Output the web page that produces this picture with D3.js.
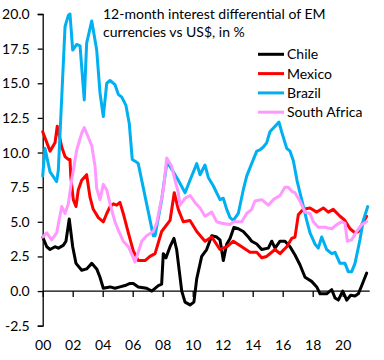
<!DOCTYPE html>
<html><head><meta charset="utf-8">
<script src="https://cdn.jsdelivr.net/npm/d3@7"></script>
<style>
html,body{margin:0;padding:0;background:#fff;}
svg{display:block;}
text{font-family:Lato,"Open Sans",sans-serif;fill:#000;}
</style></head>
<body><svg id="c" width="384" height="360"></svg>
<script>
const seriesNames = ["Chile","Mexico","Brazil","South Africa"];
const seriesColors = ["#000000","#FF0000","#00B0F0","#FF99FF"];
const yTicks = [-2.5,0,2.5,5,7.5,10,12.5,15,17.5,20];
const xTicks = [2000,2002,2004,2006,2008,2010,2012,2014,2016,2018,2020];
const xTickLabels = ["00","02","04","06","08","10","12","14","16","18","20"];
const titleLines = ["12-month interest differential of EM","currencies vs US$, in %"];

const chile = [[2000.00,3.9],[2000.27,3.2],[2000.49,3.0],[2000.82,3.2],[2001.04,3.1],[2001.37,3.3],[2001.55,3.6],[2001.77,5.2],[2002.00,3.2],[2002.22,2.0],[2002.60,1.5],[2002.93,1.6],[2003.27,2.0],[2003.60,1.6],[2003.82,1.0],[2004.04,0.2],[2004.49,0.3],[2004.82,0.2],[2005.15,0.3],[2005.49,0.4],[2005.82,0.55],[2006.04,0.55],[2006.37,0.3],[2006.93,0.2],[2007.27,0.0],[2007.49,0.2],[2007.71,0.4],[2007.93,0.5],[2008.04,2.7],[2008.22,2.4],[2008.49,3.2],[2008.75,3.8],[2008.93,3.0],[2009.27,0.0],[2009.49,-0.8],[2009.82,-1.0],[2010.08,-0.8],[2010.27,0.9],[2010.60,2.5],[2010.93,3.0],[2011.27,4.0],[2011.60,3.9],[2011.82,3.7],[2012.04,2.2],[2012.27,3.4],[2012.49,3.8],[2012.75,4.6],[2013.04,4.5],[2013.37,4.3],[2013.71,3.9],[2013.93,3.6],[2014.27,3.4],[2014.60,3.0],[2015.04,3.1],[2015.27,3.6],[2015.49,3.1],[2015.82,3.6],[2016.15,3.6],[2016.49,3.2],[2016.82,2.6],[2017.15,1.9],[2017.49,1.0],[2017.93,0.7],[2018.27,0.3],[2018.49,-0.2],[2018.93,-0.2],[2019.27,0.1],[2019.49,-0.5],[2019.71,-0.65],[2020.00,0.0],[2020.27,-0.65],[2020.53,-0.3],[2020.82,-0.35],[2021.04,-0.2],[2021.27,0.4],[2021.60,1.3]];

const mexico = [[2000.00,11.5],[2000.49,10.1],[2000.82,10.7],[2000.97,11.9],[2001.27,10.4],[2001.49,9.7],[2001.71,9.5],[2001.82,9.5],[2001.87,8.3],[2002.04,6.6],[2002.22,6.1],[2002.37,7.3],[2002.60,8.0],[2002.93,8.4],[2003.15,6.8],[2003.37,5.9],[2003.71,5.3],[2004.04,5.0],[2004.27,5.6],[2004.49,6.1],[2004.71,6.3],[2004.93,6.2],[2005.15,6.4],[2005.37,5.6],[2005.71,4.2],[2006.04,2.9],[2006.37,2.2],[2006.82,2.2],[2007.15,2.5],[2007.49,2.7],[2007.93,4.3],[2008.49,5.1],[2008.77,7.1],[2009.04,5.9],[2009.37,5.0],[2009.82,5.1],[2010.27,4.3],[2010.82,3.6],[2011.27,3.9],[2011.82,3.0],[2012.27,3.2],[2012.71,3.6],[2013.27,3.2],[2013.82,2.8],[2014.27,2.8],[2014.60,2.4],[2014.93,2.5],[2015.49,3.0],[2015.82,2.7],[2016.27,3.2],[2016.60,3.8],[2016.82,3.9],[2017.04,5.5],[2017.37,5.9],[2017.82,6.0],[2018.27,5.7],[2018.71,6.0],[2019.04,5.7],[2019.37,5.9],[2019.82,5.4],[2020.15,5.1],[2020.49,4.5],[2020.82,4.2],[2021.04,4.3],[2021.27,4.8],[2021.60,5.4]];

const brazil = [[2000.00,8.3],[2000.15,10.3],[2000.49,8.6],[2000.93,7.9],[2001.04,8.7],[2001.49,19.1],[2001.71,19.9],[2001.82,20.0],[2002.00,17.4],[2002.27,17.8],[2002.49,17.7],[2002.77,13.8],[2002.93,17.9],[2003.27,19.5],[2003.60,17.4],[2003.82,14.3],[2004.04,12.6],[2004.27,15.0],[2004.49,15.2],[2004.82,14.9],[2005.04,14.2],[2005.27,14.0],[2005.55,13.4],[2005.77,12.1],[2005.97,9.5],[2006.27,9.3],[2006.37,9.2],[2007.37,4.0],[2007.49,4.0],[2007.93,6.6],[2008.27,9.2],[2008.49,9.0],[2009.04,8.0],[2009.49,7.1],[2009.82,8.0],[2010.27,9.2],[2010.49,8.4],[2010.82,9.1],[2011.04,8.2],[2011.37,7.6],[2011.82,6.6],[2012.04,6.7],[2012.27,5.9],[2012.49,5.3],[2012.71,5.1],[2013.04,5.6],[2013.37,7.3],[2013.60,8.3],[2013.93,9.2],[2014.27,10.1],[2014.49,10.2],[2014.71,10.4],[2014.93,10.7],[2015.15,11.5],[2015.49,11.9],[2015.75,12.2],[2015.93,11.5],[2016.27,10.3],[2016.49,10.1],[2016.71,9.4],[2016.97,7.9],[2017.15,7.1],[2017.27,6.6],[2017.60,5.1],[2017.82,4.2],[2018.15,3.4],[2018.37,3.1],[2018.60,3.9],[2018.93,3.0],[2019.27,2.7],[2019.49,2.8],[2019.82,2.0],[2020.15,2.0],[2020.37,1.4],[2020.60,1.4],[2020.82,2.0],[2021.15,3.7],[2021.37,5.1],[2021.67,6.1]];

const southAfrica = [[2000.00,3.9],[2000.27,4.2],[2000.60,3.7],[2000.93,4.2],[2001.27,6.1],[2001.49,5.6],[2001.71,6.3],[2001.93,8.0],[2002.27,10.2],[2002.60,11.4],[2002.77,11.8],[2003.04,11.1],[2003.27,10.5],[2003.49,9.0],[2003.60,7.4],[2003.82,6.6],[2004.04,7.7],[2004.27,7.3],[2004.49,6.3],[2004.82,5.0],[2005.04,4.4],[2005.37,3.6],[2005.71,3.2],[2006.00,2.5],[2006.15,2.1],[2006.37,2.8],[2006.60,3.6],[2006.93,4.0],[2007.37,4.3],[2007.60,4.9],[2007.82,6.1],[2008.04,7.3],[2008.27,9.6],[2008.60,9.0],[2008.82,8.0],[2009.04,7.1],[2009.15,6.2],[2009.49,6.7],[2009.82,6.9],[2010.15,6.4],[2010.49,6.0],[2010.82,5.4],[2011.27,5.7],[2011.60,5.0],[2011.93,4.9],[2012.49,4.8],[2012.71,5.0],[2013.27,5.0],[2013.60,5.6],[2013.93,5.9],[2014.15,6.5],[2014.60,6.6],[2015.04,6.2],[2015.37,6.6],[2015.82,6.9],[2016.15,7.5],[2016.37,7.5],[2016.60,7.2],[2016.82,7.1],[2017.15,6.5],[2017.49,5.7],[2017.82,5.6],[2018.04,5.0],[2018.37,4.6],[2018.82,4.6],[2019.27,4.5],[2019.60,4.8],[2019.93,5.0],[2020.15,4.9],[2020.31,3.6],[2020.60,3.7],[2020.93,4.3],[2021.27,4.8],[2021.60,5.0]];

const seriesData = [chile, mexico, brazil, southAfrica];

const svg = d3.select("#c");
const x = d3.scaleLinear().domain([2000, 2021.8]).range([42.7, 369.7]);
const y = d3.scaleLinear().domain([-2.5, 20]).range([325.7, 14]);

// y axis
const yAxis = d3.axisLeft(y).tickValues(yTicks).tickSize(5).tickPadding(8)
  .tickFormat(v => d3.format(".1f")(v).replace("\u2212","-"));
const gy = svg.append("g").attr("transform", `translate(${x(2000)},0)`).call(yAxis);
gy.select(".domain").attr("stroke","#000").attr("stroke-width",1.3);
gy.selectAll(".tick line").attr("stroke","#000").attr("stroke-width",1.3);
gy.selectAll("text").style("font-size","14px").attr("fill","#000");

// x axis at zero
const xAxis = d3.axisBottom(x).tickValues(xTicks).tickSize(6).tickPadding(43)
  .tickFormat((d,i) => xTickLabels[i]);
const gx = svg.append("g").attr("transform", `translate(0,${y(0)})`).call(xAxis);
gx.select(".domain").attr("stroke","#000").attr("stroke-width",1.3).attr("d", `M${x(2000)},0H${x(2021.8)}`);
gx.selectAll(".tick line").attr("stroke","#000").attr("stroke-width",1.3);
gx.selectAll("text").style("font-size","14px").attr("fill","#000");

// lines
const line = d3.line().x(d => x(d[0])).y(d => y(d[1]));
seriesData.forEach((s, i) => {
  svg.append("path").datum(s).attr("d", line)
    .attr("fill","none").attr("stroke", seriesColors[i])
    .attr("stroke-width", 3).attr("stroke-linejoin","round").attr("stroke-linecap","round");
});

// title
titleLines.forEach((t, i) => {
  svg.append("text").attr("x",103).attr("y",19 + i*18).style("font-size","14px").text(t);
});

// legend
seriesNames.forEach((n, i) => {
  const ly = 54.3 + i*19.3;
  svg.append("line").attr("x1",258).attr("x2",284).attr("y1",ly).attr("y2",ly)
    .attr("stroke",seriesColors[i]).attr("stroke-width",3);
  svg.append("text").attr("x",287).attr("y",ly).attr("dy","0.35em").style("font-size","14px").text(n);
});
</script></body></html>
